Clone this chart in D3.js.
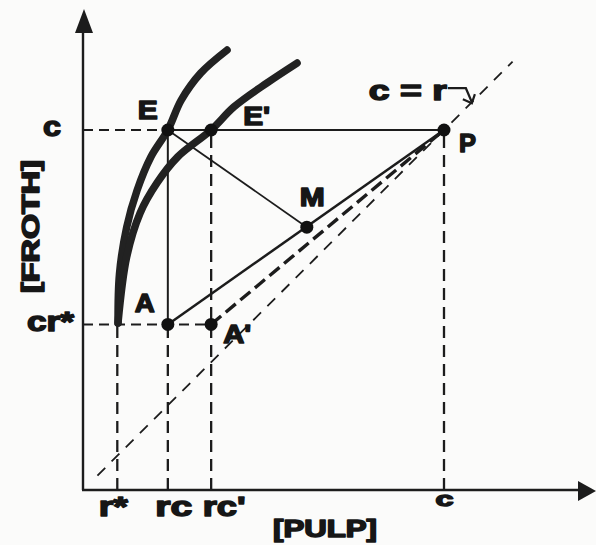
<!DOCTYPE html>
<html>
<head>
<meta charset="utf-8">
<script src="https://cdn.jsdelivr.net/npm/d3@7"></script>
<style>
  html, body { margin: 0; padding: 0; background: #fbfbfa; }
  svg { display: block; }
  text { font-family: "Liberation Sans", Arial, sans-serif; font-weight: bold; fill: #161616; stroke: #161616; stroke-width: 1.5px; stroke-linejoin: round; }
</style>
</head>
<body>
<svg id="chart" width="596" height="545"></svg>
<script>
// Pulp / froth concentration diagram (c = concentration, r = ratio)
const cValue = 1.0;       // feed concentration c
const rStar = 0.095;      // r*
const rc = 0.235;         // rc
const rcPrime = 0.355;    // rc'
const crStar = 0.46;      // cr*

const xTickValues = [rStar, rc, rcPrime, cValue];
const xTickLabels = ["r*", "rc", "rc'", "c"];
const yTickValues = [crStar, cValue];
const yTickLabels = ["cr*", "c"];

// equilibrium curves (pulp, froth)
const curveE = [[0.097, 0.464], [0.101, 0.60], [0.121, 0.73], [0.150, 0.833], [0.188, 0.925],
                [0.235, 1.0], [0.272, 1.083], [0.326, 1.158], [0.399, 1.222]];
const curveEPrime = [[0.097, 0.464], [0.121, 0.647], [0.158, 0.769], [0.205, 0.853], [0.262, 0.925],
                     [0.355, 1.0], [0.418, 1.064], [0.510, 1.131], [0.593, 1.186]];

// labelled points
const pointNames = ["E", "E'", "A", "A'", "M", "P"];
const pointX = [rc, rcPrime, rc, rcPrime, 0.62, cValue];
const pointY = [cValue, cValue, crStar, crStar, 0.73, cValue];

// diagonal c = r
const diagonalRange = [0.04, 1.19];

const svg = d3.select("#chart");
const origin = { x: 83, y: 490 };
const x = d3.scaleLinear().domain([0, 1.4]).range([origin.x, origin.x + 1.4 * 361]);
const y = d3.scaleLinear().domain([0, 1.33]).range([origin.y, origin.y - 1.33 * 360]);
const ink = "#1c1c1c";

const line = d3.line().x(d => x(d[0])).y(d => y(d[1]));
const smooth = d3.line().x(d => x(d[0])).y(d => y(d[1])).curve(d3.curveCatmullRom.alpha(0.5));

function seg(p, q, width, dash) {
  svg.append("path")
    .attr("d", line([p, q]))
    .attr("fill", "none")
    .attr("stroke", ink)
    .attr("stroke-width", width)
    .attr("stroke-dasharray", dash || null);
}

// axes with arrow heads
svg.append("line").attr("x1", x(0)).attr("y1", y(0)).attr("x2", x(0)).attr("y2", 30)
  .attr("stroke", ink).attr("stroke-width", 2.4);
svg.append("path").attr("d", `M${x(0) + 1},9 L${x(0) - 8},33 L${x(0) + 10},33 Z`).attr("fill", ink);
svg.append("line").attr("x1", x(0) - 1).attr("y1", y(0)).attr("x2", 582).attr("y2", y(0))
  .attr("stroke", ink).attr("stroke-width", 2.4);
svg.append("path").attr("d", `M596,${y(0) + 1} L578,${y(0) - 9} L578,${y(0) + 11} Z`).attr("fill", ink);

// diagonal c = r
seg([diagonalRange[0], diagonalRange[0]], [diagonalRange[1], diagonalRange[1]], 1.8, "11,9");

// guide lines
const dashG = "12,7";
seg([0, cValue], [rc, cValue], 2, "10,6");            // c level, dashed to E
seg([rc, cValue], [cValue, cValue], 2);               // E -> P solid
seg([0, crStar], [rcPrime, crStar], 2, "10,6");       // cr* level
seg([rc, crStar], [rc, cValue], 2);                   // A -> E solid
seg([rc, 0], [rc, crStar], 2.3, dashG);
seg([rcPrime, 0], [rcPrime, cValue], 2.3, dashG);
seg([rStar, 0], [rStar, crStar], 2.3, dashG);
seg([cValue, 0], [cValue, cValue], 2.3, dashG);

// tie lines
seg([pointX[2], pointY[2]], [pointX[5], pointY[5]], 2.5);              // A -> P
seg([pointX[3], pointY[3]], [pointX[5], pointY[5]], 3.4, "13,6");      // A' -> P
seg([pointX[0], pointY[0]], [pointX[4], pointY[4]], 1.8);              // E -> M

// equilibrium curves
[curveE, curveEPrime].forEach(c => {
  svg.append("path")
    .attr("d", smooth(c))
    .attr("fill", "none")
    .attr("stroke", "#222")
    .attr("stroke-width", 7.5)
    .attr("stroke-linecap", "round");
});

// points
svg.selectAll("circle.pt").data(pointNames).join("circle")
  .attr("class", "pt")
  .attr("cx", (d, i) => x(pointX[i]))
  .attr("cy", (d, i) => y(pointY[i]))
  .attr("r", 6.5)
  .attr("fill", "#111");

// point labels
const labelStyle = {
  "E":  { dx: -30, dy: -11, len: 20 },
  "E'": { dx: 32, dy: -5, len: 27 },
  "A":  { dx: -33, dy: -12, len: 20 },
  "A'": { dx: 12, dy: 19, len: 28 },
  "M":  { dx: -7, dy: -21, len: 25 },
  "P":  { dx: 15, dy: 22, len: 17 }
};
svg.selectAll("text.pt").data(pointNames).join("text")
  .attr("class", "pt")
  .attr("x", (d, i) => x(pointX[i]) + labelStyle[d].dx)
  .attr("y", (d, i) => y(pointY[i]) + labelStyle[d].dy)
  .attr("font-size", 26)
  .attr("textLength", d => labelStyle[d].len)
  .attr("lengthAdjust", "spacingAndGlyphs")
  .text(d => d);

// x tick labels
const xLabelStyle = [
  { dx: -19, dy: 26, len: 29, size: 27 },
  { dx: -13, dy: 26, len: 37, size: 27 },
  { dx: -9, dy: 26, len: 43, size: 27 },
  { dx: -9, dy: 16, len: 18, size: 20 }
];
svg.append("g").attr("transform", `translate(0,${y(0)})`)
  .call(d3.axisBottom(x).tickValues(xTickValues).tickFormat((d, i) => xTickLabels[i]).tickSize(0))
  .call(g => g.select(".domain").remove())
  .selectAll("text")
  .attr("font-family", null).attr("font-size", null)
  .attr("text-anchor", "start")
  .attr("x", (d, i) => xLabelStyle[i].dx)
  .attr("y", (d, i) => xLabelStyle[i].dy)
  .attr("dy", null)
  .style("font-size", (d, i) => xLabelStyle[i].size + "px")
  .attr("textLength", (d, i) => xLabelStyle[i].len)
  .attr("lengthAdjust", "spacingAndGlyphs");

// y tick labels
const yLabelStyle = [
  { dx: -56, dy: 6, len: 47 },
  { dx: -40, dy: 5, len: 18 }
];
svg.append("g").attr("transform", `translate(${x(0)},0)`)
  .call(d3.axisLeft(y).tickValues(yTickValues).tickFormat((d, i) => yTickLabels[i]).tickSize(0))
  .call(g => g.select(".domain").remove())
  .selectAll("text")
  .attr("font-family", null).attr("font-size", null)
  .attr("text-anchor", "start")
  .attr("x", (d, i) => yLabelStyle[i].dx)
  .attr("dy", null)
  .attr("y", (d, i) => yLabelStyle[i].dy)
  .style("font-size", "27px")
  .attr("textLength", (d, i) => yLabelStyle[i].len)
  .attr("lengthAdjust", "spacingAndGlyphs");

// axis titles
svg.append("text")
  .attr("transform", `translate(39,${(160 + 293) / 2}) rotate(-90)`)
  .attr("text-anchor", "middle")
  .attr("font-size", 23)
  .attr("textLength", 133)
  .attr("lengthAdjust", "spacingAndGlyphs")
  .text("[FROTH]");
svg.append("text")
  .attr("x", 273).attr("y", 537)
  .attr("font-size", 23)
  .attr("textLength", 104)
  .attr("lengthAdjust", "spacingAndGlyphs")
  .text("[PULP]");

// c = r annotation with hooked arrow to the diagonal
const tip = [x(1.08) - 1, y(1.08) + 2];
svg.append("text")
  .attr("x", tip[0] - 103).attr("y", tip[1] - 3)
  .attr("font-size", 27)
  .attr("textLength", 78)
  .attr("lengthAdjust", "spacingAndGlyphs")
  .text("c = r");
svg.append("path")
  .attr("d", `M${tip[0] - 24},${tip[1] - 15} H${tip[0] - 6} L${tip[0]},${tip[1] - 1}`)
  .attr("fill", "none").attr("stroke", ink).attr("stroke-width", 2.2);
svg.append("path")
  .attr("d", `M${tip[0] - 9},${tip[1] - 4} L${tip[0]},${tip[1]} L${tip[0] + 3},${tip[1] - 9}`)
  .attr("fill", "none").attr("stroke", ink).attr("stroke-width", 2.2);
</script>
</body>
</html>
